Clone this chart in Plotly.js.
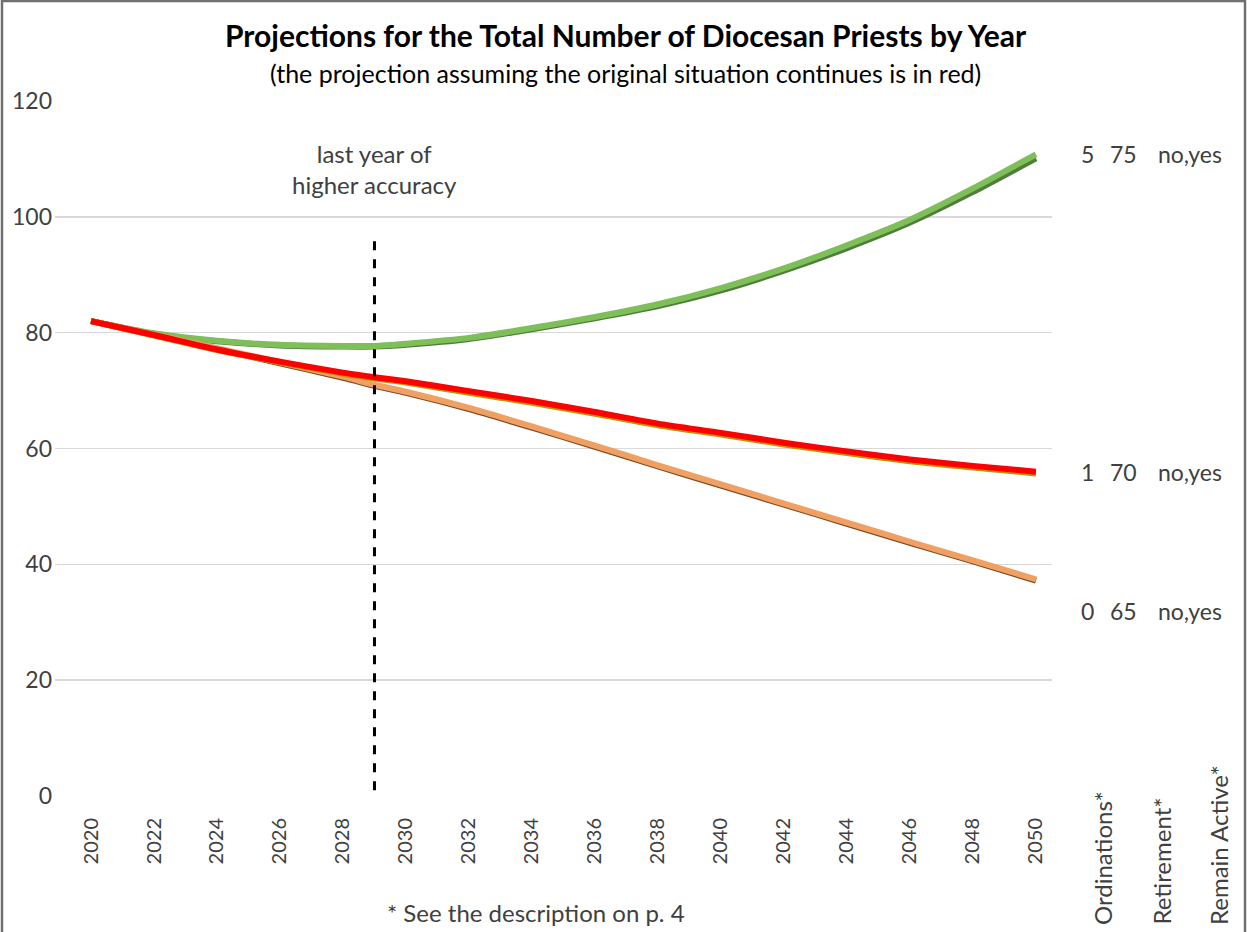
<!DOCTYPE html>
<html>
<head>
<meta charset="utf-8">
<script src="https://cdn.plot.ly/plotly-3.0.1.min.js"></script>
<style>html,body{margin:0;padding:0;background:#fff;}#chart{width:1247px;height:932px;}</style>
</head>
<body>
<div id="chart"></div>
<script>
// ---- data ----
const years = [2020,2022,2024,2026,2028,2029,2030,2032,2034,2036,2038,2040,2042,2044,2046,2048,2050];
const green_no  = [82.0,79.9,78.6,77.9,77.7,77.7,78.1,79.1,80.8,82.7,84.9,87.7,91.1,95.1,99.5,104.9,110.8];
const green_yes = [82.0,79.8,78.5,77.8,77.6,77.6,77.9,78.9,80.6,82.5,84.6,87.3,90.7,94.6,99.0,104.3,110.1];
const red_no    = [82.0,79.6,77.1,75.0,73.1,72.3,71.6,69.9,68.2,66.3,64.3,62.7,61.0,59.5,58.1,57.0,56.0];
const red_yes   = [82.0,79.5,77.0,74.9,72.9,72.1,71.4,69.6,67.9,66.0,64.0,62.4,60.7,59.2,57.8,56.7,55.7];
const orange_no = [82.0,79.6,77.2,74.7,72.2,70.8,69.6,66.8,63.6,60.3,56.9,53.6,50.3,47.0,43.7,40.5,37.2];
const orange_yes= [82.0,79.7,77.3,74.9,72.4,71.0,69.8,67.0,63.8,60.5,57.1,53.8,50.5,47.2,43.9,40.7,37.4];
const xTicks = [2020,2022,2024,2026,2028,2030,2032,2034,2036,2038,2040,2042,2044,2046,2048,2050];
const yTicks = [0,20,40,60,80,100,120];
const cutoffYear = 2029;
const cutoffTop = 96.5;
const scenarioRows = [
  {ord:'5', ret:'75', act:'no,yes', y:110.8},
  {ord:'1', ret:'70', act:'no,yes', y:56.0},
  {ord:'0', ret:'65', act:'no,yes', y:31.9}
];
const colHeaders = ['Ordinations*','Retirement*','Remain Active*'];

// ---- layout geometry ----
const W=1247,H=932, L=55, R=195, T=101, B=136;
const pw=W-L-R, ph=H-T-B;
const px2x = p => (p-L)/pw;
const py2y = p => (H-B-p)/ph;
const FONT = 'Lato, "Open Sans", sans-serif';
const TXT = '#404040';

function tr(y, color, width){
  return {x:years, y:y, type:'scatter', mode:'lines', line:{color:color,width:width,shape:'spline',smoothing:0.6}, hoverinfo:'skip', showlegend:false};
}
const data = [
  tr(green_yes,'#4f7d3a',6), tr(green_no,'#7fbf5a',6),
  tr(orange_no,'#7a4a25',6), tr(orange_yes,'#f0a062',6),
  tr(red_yes,'#b8960b',6), tr(red_no,'#ff0000',6)
];

const annotations = [
  {xref:'paper',yref:'paper',x:px2x(626),y:py2y(35),text:'<b>Projections for the Total Number of Diocesan Priests by Year</b>',showarrow:false,font:{family:FONT,size:30,color:'#000'},xanchor:'center',yanchor:'middle'},
  {xref:'paper',yref:'paper',x:px2x(625),y:py2y(73),text:'(the projection assuming the original situation continues is in red)',showarrow:false,font:{family:FONT,size:25,color:'#000'},xanchor:'center',yanchor:'middle'},
  {xref:'x',yref:'paper',x:cutoffYear,y:py2y(169),text:'last year of<br>higher accuracy',showarrow:false,font:{family:FONT,size:24,color:TXT},xanchor:'center',yanchor:'middle'},
  {xref:'paper',yref:'paper',x:px2x(536),y:py2y(912),text:'* See the description on p. 4',showarrow:false,font:{family:FONT,size:24,color:TXT},xanchor:'center',yanchor:'middle'}
];
scenarioRows.forEach(r=>{
  const yy = r.y;
  annotations.push({xref:'paper',yref:'y',x:px2x(1087),y:yy,text:r.ord,showarrow:false,font:{family:FONT,size:23,color:TXT},xanchor:'center',yanchor:'middle'});
  annotations.push({xref:'paper',yref:'y',x:px2x(1123),y:yy,text:r.ret,showarrow:false,font:{family:FONT,size:23,color:TXT},xanchor:'center',yanchor:'middle'});
  annotations.push({xref:'paper',yref:'y',x:px2x(1190),y:yy,text:r.act,showarrow:false,font:{family:FONT,size:23,color:TXT},xanchor:'center',yanchor:'middle'});
});
const hdrX=[1102,1161,1218];
colHeaders.forEach((h,i)=>{
  annotations.push({xref:'paper',yref:'paper',x:px2x(hdrX[i]),y:py2y(927),text:h,textangle:-90,showarrow:false,font:{family:FONT,size:24,color:TXT},xanchor:'center',yanchor:'bottom'});
});

const layout = {
  width:W,height:H,
  margin:{l:L,r:R,t:T,b:B,pad:0},
  paper_bgcolor:'#fff',plot_bgcolor:'#fff',
  showlegend:false,
  xaxis:{range:[2018.857,2050.51],tickvals:xTicks,ticktext:xTicks.map(String),tickangle:-90,showgrid:false,zeroline:false,showline:false,ticks:'',tickfont:{family:FONT,size:20,color:TXT},ticklabelstandoff:17},
  yaxis:{range:[0,120],tickvals:yTicks,showgrid:true,gridcolor:'#d9d9d9',gridwidth:1.5,zeroline:false,showline:false,ticks:'',tickfont:{family:FONT,size:23,color:TXT},ticklabelstandoff:2},
  shapes:[
    {type:'line',xref:'x',yref:'y',x0:cutoffYear,x1:cutoffYear,y0:1,y1:cutoffTop,line:{color:'#000',width:3,dash:'dash'}},
    {type:'rect',xref:'paper',yref:'paper',x0:px2x(2),x1:px2x(1245),y0:py2y(1),y1:py2y(940),line:{color:'#6f6f6f',width:2.5},fillcolor:'rgba(0,0,0,0)'}
  ],
  annotations:annotations
};
Plotly.newPlot('chart',data,layout,{staticPlot:true,displayModeBar:false});
</script>
</body>
</html>
